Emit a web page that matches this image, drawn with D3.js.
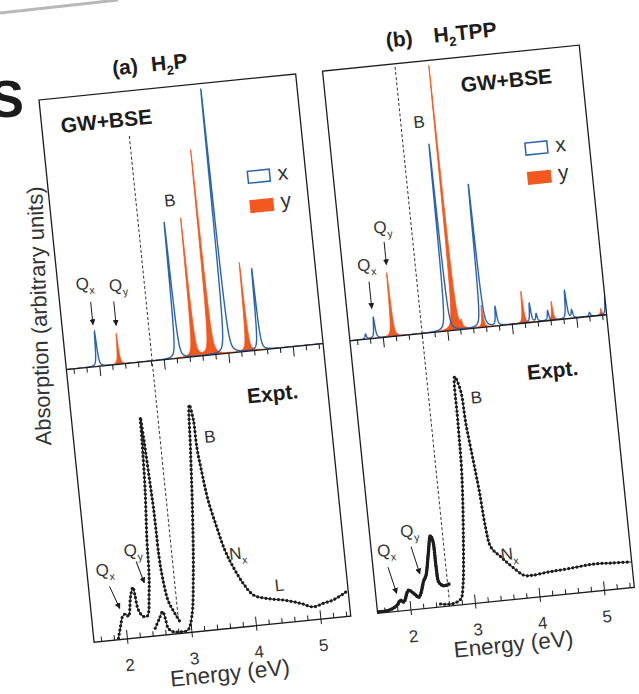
<!doctype html>
<html>
<head>
<meta charset="utf-8">
<title>Porphyrin absorption: GW+BSE vs. experiment</title>
<script src="https://cdnjs.cloudflare.com/ajax/libs/d3/7.8.5/d3.min.js"></script>
<style>
  body { margin: 0; background: #fff; }
  svg { display: block; font-family: "Liberation Sans", Arial, Helvetica, sans-serif; }
</style>
</head>
<body>
<div id="chart"></div>
<script>

// energy axis ticks (eV)
const majorTicks = [2, 3, 4, 5];
const minorTicks = [1.6, 1.8, 2.2, 2.4, 2.6, 2.8, 3.2, 3.4, 3.6, 3.8, 4.2, 4.4, 4.6, 4.8, 5.2, 5.4];

// GW+BSE excitations, [energy (eV), strength (arb. units)]
const h2pX   = [[1.98, 3.5], [3.22, 13.7], [3.99, 26.6], [4.49, 8.2]];
const h2pY   = [[2.31, 3.1], [3.48, 13.9], [3.74, 20.6], [4.31, 8.9]];
const h2tppX = [[1.74, 0.5], [1.885, 2.1], [3.01, 18.8], [3.55, 14.4], [3.77, 1.9], [4.30, 1.9],
                [4.39, 0.8], [4.57, 1.0], [4.86, 2.8], [4.94, 0.8], [5.21, 0.4], [5.47, 1.9]];
const h2tppY = [[2.16, 6.4], [3.13, 26.6], [3.23, 0.6], [3.56, 2.2], [4.19, 3.2], [4.64, 1.9], [5.39, 0.7]];

// experiment, [energy (eV), absorption (arb. units)]
const h2pQband = [[1.87, 0.14], [1.92, 1.27], [1.97, 2.3], [2.02, 2.5], [2.06, 2.2], [2.12, 4.15],
  [2.17, 5.07], [2.19, 4.3], [2.22, 2.76], [2.29, 2.05], [2.35, 2.07], [2.41, 4.3], [2.44, 6.3],
  [2.46, 9.6], [2.51, 14.6], [2.54, 19.6], [2.55, 21.9], [2.57, 19.6], [2.60, 14.6], [2.61, 12.9],
  [2.615, 10.5], [2.62, 7.8], [2.64, 5.8], [2.69, 3.4], [2.75, 2.4], [2.84, 1.17]];
const h2pFull = [[2.45, 0.77], [2.53, 1.7], [2.59, 2.35], [2.62, 1.66], [2.65, 0.63], [2.72, 0.24],
  [2.85, 0.16], [2.95, 0.26], [3.03, 1.56], [3.12, 5.85], [3.21, 12.5], [3.27, 18.15], [3.32, 22.64],
  [3.36, 21.1], [3.37, 18.4], [3.41, 15.7], [3.46, 13.0], [3.55, 10.25], [3.64, 7.85], [3.74, 6.1],
  [3.87, 4.35], [4.01, 3.08], [4.21, 2.6], [4.46, 2.28], [4.71, 1.8], [4.91, 1.3], [5.07, 1.56],
  [5.22, 1.77], [5.44, 2.47]];
const h2tppQband = [[1.48, 0.15], [1.67, 0.2], [1.80, 0.6], [1.86, 1.07], [1.91, 0.87], [2.00, 1.98],
  [2.08, 1.6], [2.15, 1.2], [2.25, 2.8], [2.29, 3.26], [2.36, 5.4], [2.42, 7.19], [2.45, 6.67],
  [2.46, 3.98], [2.48, 2.46], [2.55, 2.08], [2.63, 2.2]];
const h2tppFull = [[2.47, 0.3], [2.65, 0.2], [2.79, 0.6], [2.84, 1.76], [2.92, 6.4], [3.00, 13.07],
  [3.02, 18.07], [3.04, 22.75], [3.11, 21.36], [3.14, 18.0], [3.19, 14.6], [3.24, 11.2], [3.28, 7.5],
  [3.33, 5.46], [3.47, 4.37], [3.63, 3.26], [3.80, 2.3], [3.92, 2.23], [4.19, 2.4], [4.50, 2.52],
  [4.86, 2.72], [5.17, 2.65], [5.46, 2.56]];

const BLUE = '#2a63b2', ORANGE = '#f3581f', INK = '#1c1c1c';

// one panel = GW+BSE on top, experiment below (panel frame, before the page tilt)
const W = 258, H = 545, D = 271;
const x = d3.scaleLinear().domain([1.49, 5.47]).range([0, W]);
const yTop = d3.scaleLinear().domain([0, 27.1]).range([D, 0]);
const yBot = d3.scaleLinear().domain([0, 27.4]).range([H, D]);
const gamma = 0.013;

// lorentzian line shape for the computed excitations
function broaden(peaks) {
  const grid = d3.range(1.49, 5.4705, 0.001).concat(peaks.map(p => p[0])).sort(d3.ascending);
  return grid.map(e => [e, d3.sum(peaks, p => p[1] * gamma * gamma / ((e - p[0]) ** 2 + gamma * gamma))]);
}

const panels = [
  { id: 'a', dx: 0, tag: '(a)', tagX: 76, molX: 115, mol: ['H', '2', 'P'],
    calcX: h2pX, calcY: h2pY, qband: h2pQband, full: h2pFull, thickQ: false,
    dashE: 2.82, dashTop: 22.6, dashBot: 1.4, gwX: 19, exptX: 177, exptY: 323, legX: 211,
    topLabels: [['B', '', 120, 113], ['Q', 'x', 27, 187], ['Q', 'y', 60, 192]],
    topArrows: [[31, 206, 31, 229], [54, 208, 54, 232]],
    botLabels: [['B', '', 136, 352], ['N', 'x', 152, 471], ['L', '', 190, 507], ['Q', 'x', 18, 474], ['Q', 'y', 48, 457]],
    botArrows: [[21, 491, 29, 514], [50, 469, 56, 491]] },
  { id: 'b', dx: 285, tag: '(b)', tagX: 66, molX: 114, mol: ['H', '2', 'TPP'],
    calcX: h2tppX, calcY: h2tppY, qband: h2tppQband, full: h2tppFull, thickQ: true,
    dashE: 2.61, dashTop: 26.8, dashBot: 0.6, gwX: 136, exptX: 173, exptY: 328, legX: 205,
    topLabels: [['B', '', 91, 60], ['Q', 'x', 24, 197], ['Q', 'y', 44, 161]],
    topArrows: [[25, 214, 25, 241], [44, 176, 44, 199]],
    botLabels: [['B', '', 120, 340], ['N', 'x', 137, 499], ['Q', 'x', 15, 483], ['Q', 'y', 40, 466]],
    botArrows: [[15, 500, 21, 527], [40, 482, 46, 510]] }
];

const svg = d3.select('#chart').append('svg')
  .attr('width', 639).attr('height', 694);
svg.append('rect').attr('width', 639).attr('height', 694).attr('fill', '#fff');

const defs = svg.append('defs');
defs.append('marker')
  .attr('id', 'arrowhead').attr('viewBox', '0 0 10 10')
  .attr('refX', 9).attr('refY', 5)
  .attr('markerWidth', 6).attr('markerHeight', 6)
  .attr('orient', 'auto')
  .append('path').attr('d', 'M0,0L10,5L0,10z').attr('fill', INK);
defs.append('clipPath').attr('id', 'clip-top')
  .append('rect').attr('width', W).attr('height', D);
defs.append('clipPath').attr('id', 'clip-bot')
  .append('rect').attr('y', D).attr('width', W).attr('height', H - D);

// page edge and the cut heading letter
svg.append('line').attr('x1', 0).attr('y1', 13).attr('x2', 118).attr('y2', 0)
  .attr('stroke', '#b8b8b8').attr('stroke-width', 3);
svg.append('text').attr('x', 24).attr('y', 117).attr('text-anchor', 'end')
  .attr('font-size', 52).attr('font-weight', 'bold').attr('fill', INK).text('S');

// y label (slightly less tilted than the panels)
svg.append('text')
  .attr('transform', 'translate(39,316) rotate(-92)')
  .attr('text-anchor', 'middle').attr('dy', '0.35em')
  .attr('font-size', 22).attr('fill', '#333')
  .text('Absorption (arbitrary units)');

const page = svg.append('g').attr('transform', 'translate(39,100) rotate(-5.8)');

function subLabel(g, main, sub, cx, cy, size) {
  const t = g.append('text')
    .attr('x', cx).attr('y', cy).attr('dy', '0.35em')
    .attr('text-anchor', 'middle').attr('font-size', size).attr('fill', '#333');
  t.append('tspan').text(main);
  if (sub) t.append('tspan').attr('font-size', size * 0.62).attr('dy', size * 0.3).text(sub);
}

function arrow(g, a) {
  g.append('line')
    .attr('x1', a[0]).attr('y1', a[1]).attr('x2', a[2]).attr('y2', a[3])
    .attr('stroke', INK).attr('stroke-width', 1)
    .attr('marker-end', 'url(#arrowhead)');
}

panels.forEach(p => {
  const g = page.append('g').attr('transform', `translate(${p.dx},0)`);

  // title
  g.append('text').attr('x', p.tagX).attr('y', -17)
    .attr('font-size', 21).attr('font-weight', 'bold').attr('fill', INK).text(p.tag);
  const mol = g.append('text').attr('x', p.molX).attr('y', -17)
    .attr('font-size', 21).attr('font-weight', 'bold').attr('fill', INK);
  mol.append('tspan').text(p.mol[0]);
  mol.append('tspan').attr('font-size', 13).attr('dy', 5).text(p.mol[1]);
  mol.append('tspan').attr('dy', -5).text(p.mol[2]);

  // ---- GW+BSE ----
  const top = g.append('g').attr('clip-path', 'url(#clip-top)');
  top.append('path')
    .datum(broaden(p.calcY))
    .attr('fill', ORANGE).attr('stroke', ORANGE).attr('stroke-width', 0.8)
    .attr('d', d3.area().x(d => x(d[0])).y0(D).y1(d => yTop(d[1])));
  top.append('path')
    .datum(broaden(p.calcX))
    .attr('fill', 'none').attr('stroke', BLUE).attr('stroke-width', 1.4)
    .attr('d', d3.line().x(d => x(d[0])).y(d => yTop(d[1])));

  // ---- experiment ----
  const bot = g.append('g').attr('clip-path', 'url(#clip-bot)');
  const exLine = d3.line().x(d => x(d[0])).y(d => yBot(d[1]))
    .curve(d3.curveCatmullRom.alpha(0.5));
  [[p.qband, p.thickQ], [p.full, false]].forEach(([data, thick]) => {
    bot.append('path').datum(data)
      .attr('fill', 'none').attr('stroke', INK)
      .attr('stroke-width', thick ? 2.6 : 1).attr('d', exLine);
    bot.append('path').datum(data)
      .attr('fill', 'none').attr('stroke', INK)
      .attr('stroke-width', thick ? 3.6 : 3.2)
      .attr('stroke-linecap', 'round')
      .attr('stroke-dasharray', thick ? '0 2.6' : '0 4.2')
      .attr('d', exLine);
  });

  // dashed guide
  g.append('line')
    .attr('x1', x(p.dashE)).attr('x2', x(p.dashE))
    .attr('y1', yTop(p.dashTop)).attr('y2', yBot(p.dashBot))
    .attr('stroke', '#333').attr('stroke-width', 1)
    .attr('stroke-dasharray', '3 2.2');

  // axes: ticks hanging from the divider, ticks rising from the bottom
  const divMajor = g.append('g').attr('transform', `translate(0,${D})`)
    .call(d3.axisBottom(x).tickValues(majorTicks).tickSize(10).tickFormat(''));
  const divMinor = g.append('g').attr('transform', `translate(0,${D})`)
    .call(d3.axisBottom(x).tickValues(minorTicks).tickSize(5).tickFormat(''));
  const botMajor = g.append('g').attr('transform', `translate(0,${H})`)
    .call(d3.axisBottom(x).tickValues(majorTicks).tickSize(-9).tickPadding(20)
      .tickFormat(d3.format('d')));
  const botMinor = g.append('g').attr('transform', `translate(0,${H})`)
    .call(d3.axisBottom(x).tickValues(minorTicks).tickSize(-5).tickFormat(''));
  [divMajor, divMinor, botMajor, botMinor].forEach(ax => {
    ax.select('.domain').remove();
    ax.selectAll('.tick line').attr('stroke', INK).attr('stroke-width', 1);
  });
  botMajor.selectAll('.tick line').attr('y1', 5);
  botMajor.selectAll('.tick text')
    .attr('font-size', 17).attr('fill', '#333')
    .attr('font-family', '"Liberation Sans", Arial, sans-serif');

  // frame and divider
  g.append('rect').attr('width', W).attr('height', H)
    .attr('fill', 'none').attr('stroke', INK).attr('stroke-width', 1.3);
  g.append('line').attr('x1', 0).attr('x2', W).attr('y1', D).attr('y2', D)
    .attr('stroke', INK).attr('stroke-width', 1.3);

  // labels
  g.append('text').attr('x', p.gwX).attr('y', 35)
    .attr('font-size', 21).attr('font-weight', 'bold').attr('fill', INK).text('GW+BSE');
  g.append('text').attr('x', p.exptX).attr('y', p.exptY)
    .attr('font-size', 21).attr('font-weight', 'bold').attr('fill', INK).text('Expt.');
  p.topLabels.forEach(l => subLabel(g, l[0], l[1], l[2], l[3], 17));
  p.botLabels.forEach(l => subLabel(g, l[0], l[1], l[2], l[3], 17));
  p.topArrows.forEach(a => arrow(g, a));
  p.botArrows.forEach(a => arrow(g, a));

  // legend
  g.append('rect').attr('x', p.legX - 11).attr('y', 92).attr('width', 22).attr('height', 12)
    .attr('fill', '#fff').attr('stroke', BLUE).attr('stroke-width', 1.5);
  g.append('rect').attr('x', p.legX - 12).attr('y', 121).attr('width', 24).attr('height', 13)
    .attr('fill', ORANGE);
  g.append('text').attr('x', p.legX + 19).attr('y', 104)
    .attr('font-size', 21).attr('fill', '#333').text('x');
  g.append('text').attr('x', p.legX + 19).attr('y', 132)
    .attr('font-size', 21).attr('fill', '#333').text('y');

  // energy axis title
  g.append('text').attr('x', 132).attr('y', 597)
    .attr('text-anchor', 'middle').attr('font-size', 22.5).attr('fill', '#333')
    .text('Energy (eV)');
});

</script>
</body>
</html>
